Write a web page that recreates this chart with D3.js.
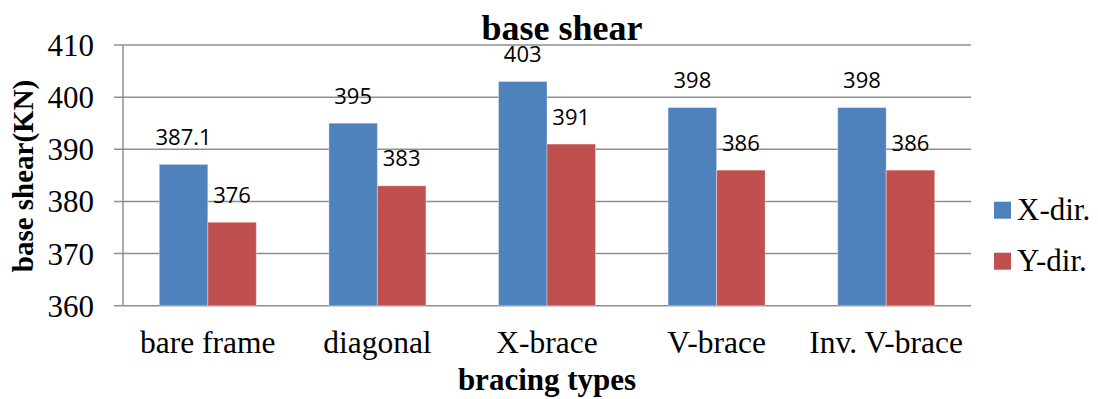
<!DOCTYPE html>
<html>
<head>
<meta charset="utf-8">
<script src="https://cdn.jsdelivr.net/npm/d3@7/dist/d3.min.js"></script>
<style>
  html, body { margin: 0; padding: 0; background: #fff; }
  svg { display: block; }
</style>
</head>
<body>
<script>
// Base shear by bracing type, two loading directions
const categories = ["bare frame", "diagonal", "X-brace", "V-brace", "Inv. V-brace"];
const seriesNames = ["X-dir.", "Y-dir."];
const xDir = [387.1, 395, 403, 398, 398];
const yDir = [376, 383, 391, 386, 386];
const yTicks = [360, 370, 380, 390, 400, 410];
const colors = ["#4F81BD", "#C0504D"];

const W = 1098, H = 399;
const plot = { left: 123, right: 971, top: 45, bottom: 305.7 };
const serif = "'Liberation Serif', 'Times New Roman', serif";

const svg = d3.select("body").append("svg").attr("width", W).attr("height", H);

const y = d3.scaleLinear().domain([360, 410]).range([plot.bottom, plot.top]);
const pad = 0.428;
const x0 = d3.scaleBand().domain(categories).range([plot.left, plot.right])
  .paddingInner(pad).paddingOuter(pad / 2);
const x1 = d3.scaleBand().domain(seriesNames).range([0, x0.bandwidth()]);

// horizontal gridlines with short ticks left of the axis
svg.append("g").selectAll("line").data(yTicks).join("line")
  .attr("x1", plot.left - 9).attr("x2", plot.right)
  .attr("y1", d => y(d)).attr("y2", d => y(d))
  .attr("stroke", "#8f8f8f").attr("stroke-width", 1.5);

// vertical axis line
svg.append("line")
  .attr("x1", plot.left).attr("x2", plot.left)
  .attr("y1", plot.top).attr("y2", plot.bottom)
  .attr("stroke", "#8f8f8f").attr("stroke-width", 1.5);

// y tick labels
svg.append("g").selectAll("text").data(yTicks).join("text")
  .attr("x", 94).attr("y", d => y(d) + 11)
  .attr("text-anchor", "end")
  .style("font-family", serif)
  .attr("font-size", 31).attr("fill", "#000")
  .text(d => d);

const rows = categories.map((c, i) => ({ cat: c, vals: [xDir[i], yDir[i]] }));

const groups = svg.append("g").selectAll("g").data(rows).join("g")
  .attr("transform", d => `translate(${x0(d.cat)},0)`);

groups.selectAll("rect").data(d => d.vals.map((v, j) => ({ v, s: seriesNames[j], j })))
  .join("rect")
  .attr("x", d => x1(d.s))
  .attr("width", x1.bandwidth())
  .attr("y", d => y(d.v))
  .attr("height", d => y(360) - y(d.v))
  .attr("fill", d => colors[d.j])
  .attr("stroke", "rgba(255,255,255,0.35)").attr("stroke-width", 1);

// value labels above each bar
groups.selectAll("text").data(d => d.vals.map((v, j) => ({ v, s: seriesNames[j], j })))
  .join("text")
  .attr("x", d => x1(d.s) + x1.bandwidth() / 2)
  .attr("y", d => y(d.v) - 19.5)
  .attr("text-anchor", "middle")
  .style("font-family", "'Open Sans', 'Noto Sans', sans-serif")
  .attr("font-size", 22).attr("fill", "#000")
  .text(d => d.v);

// category labels
svg.append("g").selectAll("text").data(categories).join("text")
  .attr("x", d => x0(d) + x0.bandwidth() / 2)
  .attr("y", 353)
  .attr("text-anchor", "middle")
  .style("font-family", serif)
  .attr("font-size", 31.5).attr("fill", "#000")
  .text(d => d);

// titles
svg.append("text")
  .attr("x", 562).attr("y", 40)
  .attr("text-anchor", "middle")
  .style("font-family", serif)
  .attr("font-weight", "bold").attr("font-size", 36)
  .text("base shear");

svg.append("text")
  .attr("x", 547).attr("y", 390)
  .attr("text-anchor", "middle")
  .style("font-family", serif)
  .attr("font-weight", "bold").attr("font-size", 31)
  .text("bracing types");

svg.append("text")
  .attr("transform", "translate(33,176) rotate(-90)")
  .attr("text-anchor", "middle")
  .style("font-family", serif)
  .attr("font-weight", "bold").attr("font-size", 29)
  .text("base shear(KN)");

// legend
const legend = svg.append("g").selectAll("g").data(seriesNames).join("g")
  .attr("transform", (d, i) => `translate(994,${201.7 + i * 51})`);
legend.append("rect").attr("width", 17).attr("height", 17)
  .attr("fill", (d, i) => colors[i]);
legend.append("text")
  .attr("x", 23).attr("y", 18.5)
  .style("font-family", serif)
  .attr("font-size", 31).attr("fill", "#000")
  .text(d => d);
</script>
</body>
</html>
